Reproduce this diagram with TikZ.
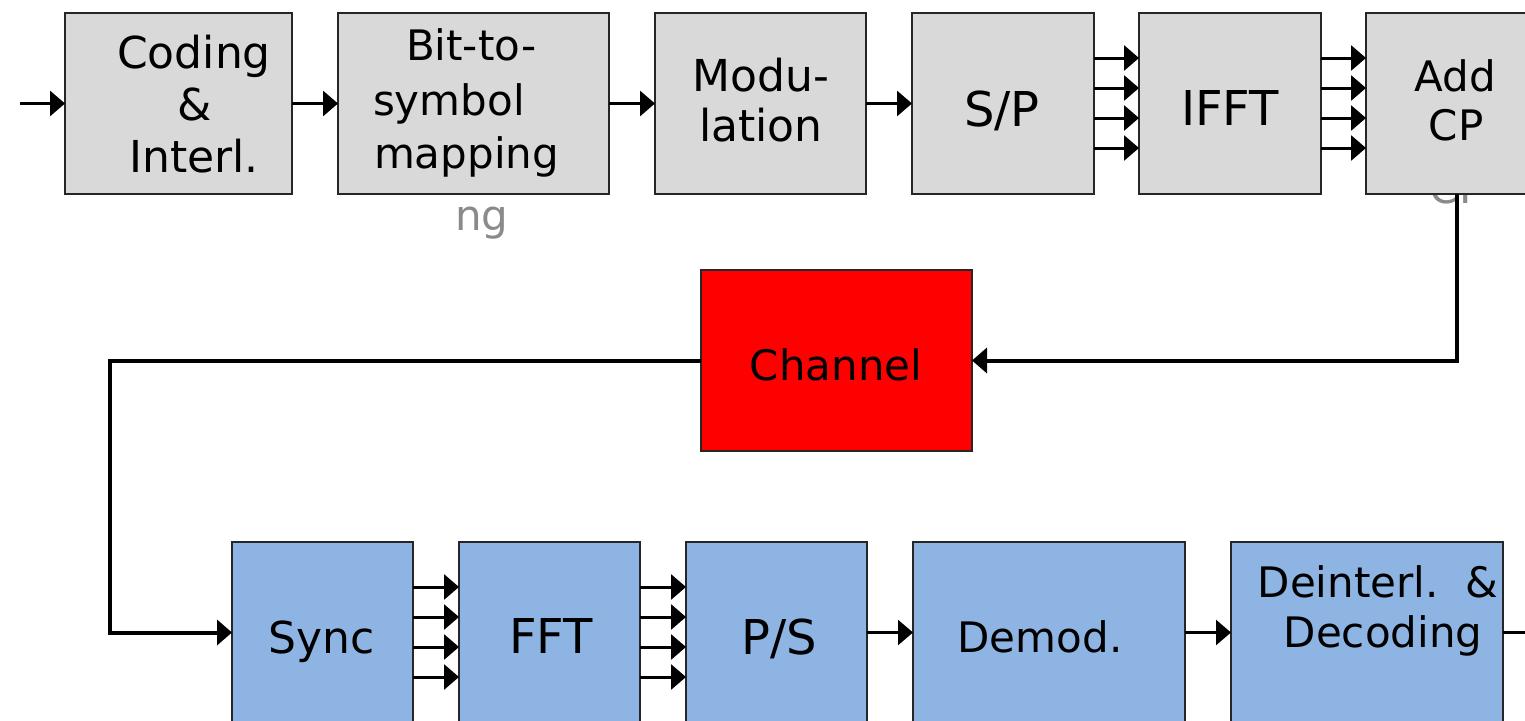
\documentclass[tikz,border=0pt]{standalone}
\usepackage{fontspec}
\setmainfont{DejaVu Sans}
\usetikzlibrary{arrows.meta}
\definecolor{boxgray}{HTML}{D9D9D9}
\definecolor{boxblue}{HTML}{8EB4E3}
\definecolor{ghost}{HTML}{8A8A8A}
\tikzset{
 blk/.style={draw=black!85, line width=1.5pt, minimum height=181pt, inner sep=0pt, outer sep=0pt},
 gbox/.style={blk, fill=boxgray},
 bbox/.style={blk, fill=boxblue},
 rbox/.style={blk, fill=red},
 txt/.style={inner sep=0pt, outer sep=0pt, anchor=base, font=\fontsize{42}{50}\selectfont},
 midtxt/.style={txt, font=\fontsize{44}{52}\selectfont},
 bigtxt/.style={txt, font=\fontsize{48}{56}\selectfont},
 ghosttxt/.style={txt, text=ghost},
 arr/.style={line width=3pt, -{Triangle[length=15pt,width=25pt]}},
 wire/.style={line width=4pt},
 wirearr/.style={wire, -{Triangle[length=15pt,width=25pt]}},
}
\begin{document}
\begin{tikzpicture}[x=1pt,y=-1pt]
\useasboundingbox (0,0) rectangle (1525,720);
\clip (0,0) rectangle (1525,720);
\fill[white] (0,0) rectangle (1525,720);

% ghost texts
\node[ghosttxt, anchor=base west] (ghostng) at (455,230) {ng};
\node[ghosttxt] (ghostcp) at (1457,203) {CP};

% top row
\node[gbox, minimum width=227pt] (coding) at (178.5,103.5) {};
\node[gbox, minimum width=271pt] (bit) at (473.5,103.5) {};
\node[gbox, minimum width=211pt] (mod) at (760.5,103.5) {};
\node[gbox, minimum width=182pt] (sp) at (1003,103.5) {};
\node[gbox, minimum width=182pt] (ifft) at (1230,103.5) {};
\node[gbox, minimum width=182pt] (addcp) at (1457,103.5) {};

% channel
\node[rbox, minimum width=271pt] (channel) at (836.5,360.5) {};

% bottom row
\node[bbox, minimum width=181pt] (sync) at (322.5,632.5) {};
\node[bbox, minimum width=181pt] (fft) at (549.5,632.5) {};
\node[bbox, minimum width=181pt] (ps) at (776.5,632.5) {};
\node[bbox, minimum width=272pt] (demod) at (1049,632.5) {};
\node[bbox, minimum width=272pt] (deint) at (1367,632.5) {};

% texts
\node[midtxt] (t1a) at (194,68) {Coding};
\node[midtxt] (t1b) at (195,120) {\&};
\node[midtxt] (t1c) at (194,172) {Interl.};
\node[txt, anchor=base west] (t2a) at (406,60) {Bit-to-};
\node[txt, anchor=base west] (t2b) at (373,115) {symbol};
\node[txt, anchor=base west] (t2c) at (374,168) {mapping};
\node[midtxt] (t3a) at (761,91) {Modu-};
\node[midtxt] (t3b) at (761,141) {lation};
\node[bigtxt] (t4) at (1002,126) {S/P};
\node[bigtxt] (t5) at (1230,125) {IFFT};
\node[txt] (t6a) at (1455,91) {Add};
\node[txt] (t6b) at (1456,140) {CP};
\node[txt] (t7) at (836,380) {Channel};
\node[midtxt] (t8) at (322,653) {Sync};
\node[bigtxt] (t9) at (551,653) {FFT};
\node[bigtxt] (t10) at (779,654) {P/S};
\node[txt] (t11) at (1040,652) {Demod.};
\node[txt] (t12a) at (1378,597) {Deinterl.\ \ \&};
\node[txt] (t12b) at (1383,647) {Decoding};

% connectors
\coordinate (in) at (20,103.5);
\coordinate (out) at (1530,632.5);
\coordinate (bend) at (110,360.5);
\draw[arr] (in) -- (coding.west);
\draw[arr] (coding.east) -- (bit.west);
\draw[arr] (bit.east) -- (mod.west);
\draw[arr] (mod.east) -- (sp.west);
\foreach \dy in {45.5,15.5,-14.5,-44.5}{
  \draw[arr] ([yshift=\dy pt]sp.east) -- ([yshift=\dy pt]ifft.west);
  \draw[arr] ([yshift=\dy pt]ifft.east) -- ([yshift=\dy pt]addcp.west);
  \draw[arr] ([yshift=\dy pt]sync.east) -- ([yshift=\dy pt]fft.west);
  \draw[arr] ([yshift=\dy pt]fft.east) -- ([yshift=\dy pt]ps.west);
}
\draw[wirearr] (addcp.south) |- (channel.east);
\draw[wirearr] (channel.west) -- (bend) |- (sync.west);
\draw[arr, line width=2.5pt] (ps.east) -- (demod.west);
\draw[arr, line width=2.5pt] (demod.east) -- (deint.west);
\draw[line width=2.5pt] (deint.east) -- (out);
\end{tikzpicture}
\end{document}
